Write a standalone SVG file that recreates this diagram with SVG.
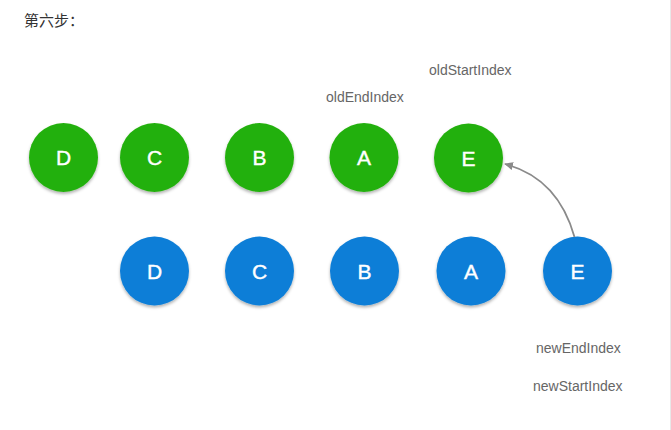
<svg xmlns="http://www.w3.org/2000/svg" width="671" height="430" viewBox="0 0 671 430">
<style>
.g{fill:#22b00a}
.b{fill:#0b7ed7}
.n circle{filter:url(#sh)}
.n text{font-family:"Liberation Sans",Arial,sans-serif;font-size:21px;fill:#fff;stroke:#fff;stroke-width:0.4;text-anchor:middle}
.lbl{font-family:"Liberation Sans",Arial,sans-serif;font-size:14px;fill:#666}
.title{font-family:"Liberation Sans","Noto Sans CJK SC",sans-serif;font-size:15px;fill:#333}
</style>
<defs>
<filter id="sh" x="-30%" y="-30%" width="160%" height="170%">
<feDropShadow dx="0" dy="2" stdDeviation="1.8" flood-color="#000" flood-opacity="0.3"/>
</filter>
<marker id="ah" markerWidth="10" markerHeight="8" refX="8" refY="4" orient="auto" markerUnits="userSpaceOnUse">
<path d="M0,0 L9,4 L0,8 Z" fill="#8a8a8a"/>
</marker>
</defs>
<rect width="671" height="430" fill="#fff"/>
<line x1="670.5" y1="0" x2="670.5" y2="430" stroke="#e8e8e8" stroke-width="1"/>
<text class="title" x="24" y="26">第六步：</text>
<text class="lbl" x="429" y="75">oldStartIndex</text>
<text class="lbl" x="326" y="102">oldEndIndex</text>
<text class="lbl" x="536" y="353">newEndIndex</text>
<text class="lbl" x="533" y="391">newStartIndex</text>
<g id="old-D" class="n"><circle class="g" cx="63.5" cy="157.5" r="34.5"/><text x="63.5" y="165">D</text></g>
<g id="old-C" class="n"><circle class="g" cx="154.5" cy="157.5" r="34.5"/><text x="154.5" y="165">C</text></g>
<g id="old-B" class="n"><circle class="g" cx="259.5" cy="157.5" r="34.5"/><text x="259.5" y="165">B</text></g>
<g id="old-A" class="n"><circle class="g" cx="364" cy="157.5" r="34.5"/><text x="364" y="165">A</text></g>
<g id="old-E" class="n"><circle class="g" cx="468.5" cy="158" r="34.5"/><text x="468.5" y="165.5">E</text></g>
<g id="new-D" class="n"><circle class="b" cx="154.5" cy="271" r="34.5"/><text x="154.5" y="278.5">D</text></g>
<g id="new-C" class="n"><circle class="b" cx="259.5" cy="271" r="34.5"/><text x="259.5" y="278.5">C</text></g>
<g id="new-B" class="n"><circle class="b" cx="364.5" cy="271" r="34.5"/><text x="364.5" y="278.5">B</text></g>
<g id="new-A" class="n"><circle class="b" cx="471" cy="271" r="34.5"/><text x="471" y="278.5">A</text></g>
<g id="new-E" class="n"><circle class="b" cx="577.5" cy="271" r="34.5"/><text x="577.5" y="278.5">E</text></g>
<g id="connectors">
<path d="M574.5,237 Q558,178 505,164" fill="none" stroke="#8a8a8a" stroke-width="1.8" marker-end="url(#ah)"/>
</g>
</svg>
